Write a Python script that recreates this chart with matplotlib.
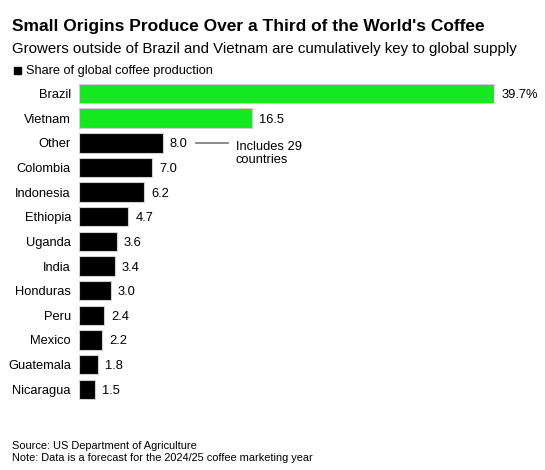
import matplotlib.pyplot as plt
import matplotlib.patches as mpatches

plt.rcParams['font.family'] = ['Liberation Sans', 'DejaVu Sans']

countries = ["Brazil", "Vietnam", "Other", "Colombia", "Indonesia", "Ethiopia", "Uganda",
             "India", "Honduras", "Peru", "Mexico", "Guatemala", "Nicaragua"]
shares = [39.7, 16.5, 8.0, 7.0, 6.2, 4.7, 3.6, 3.4, 3.0, 2.4, 2.2, 1.8, 1.5]
labels = ["39.7%", "16.5", "8.0", "7.0", "6.2", "4.7", "3.6", "3.4", "3.0", "2.4", "2.2", "1.8", "1.5"]
green = "#14e81e"
colors = [green, green] + ["black"] * 11

W, H = 545, 470
fig = plt.figure(figsize=(W / 100, H / 100), dpi=100)
ax = fig.add_axes([79.3 / W, 1 - 401.6 / H, 415 / W, 320.4 / H])

y = list(range(len(countries)))
ax.barh(y, shares, height=0.79, color=colors, edgecolor="#cfcfcf", linewidth=0.8)
ax.set_xlim(0, 39.7)
ax.set_ylim(len(countries) - 0.5, -0.5)
ax.set_yticks(y)
ax.set_yticklabels(countries, fontsize=9.3)
ax.tick_params(axis="y", length=0, pad=6)
ax.set_xticks([])
for s in ax.spines.values():
    s.set_visible(False)

for i, (v, lab) in enumerate(zip(shares, labels)):
    ax.text(v + 0.65, i, lab, va="center_baseline", ha="left", fontsize=9.3)

# note next to Other
ax.plot([11.17, 14.2], [2, 2], color="#777777", lw=1.2, clip_on=False)
ax.text(14.97, 1.93, "Includes 29\ncountries", va="top", ha="left", fontsize=9.3, linespacing=1.05)

fig.text(12.5 / W, 1 - 31.5 / H, "Small Origins Produce Over a Third of the World's Coffee",
         fontsize=12.5, fontweight="bold", va="baseline", ha="left")
fig.text(12.5 / W, 1 - 53.5 / H, "Growers outside of Brazil and Vietnam are cumulatively key to global supply",
         fontsize=10.8, va="baseline", ha="left")
fig.patches.append(mpatches.Rectangle((14 / W, 1 - 73.7 / H), 7 / W, 7 / H,
                                      transform=fig.transFigure, color="black"))
fig.text(26.5 / W, 1 - 74 / H, "Share of global coffee production", fontsize=9.2, va="baseline", ha="left")

fig.text(12.5 / W, 1 - 449 / H, "Source: US Department of Agriculture", fontsize=7.9, va="baseline", ha="left")
fig.text(12.5 / W, 1 - 461 / H, "Note: Data is a forecast for the 2024/25 coffee marketing year",
         fontsize=7.9, va="baseline", ha="left")

fig.savefig("out.png", dpi=100, facecolor="white")
